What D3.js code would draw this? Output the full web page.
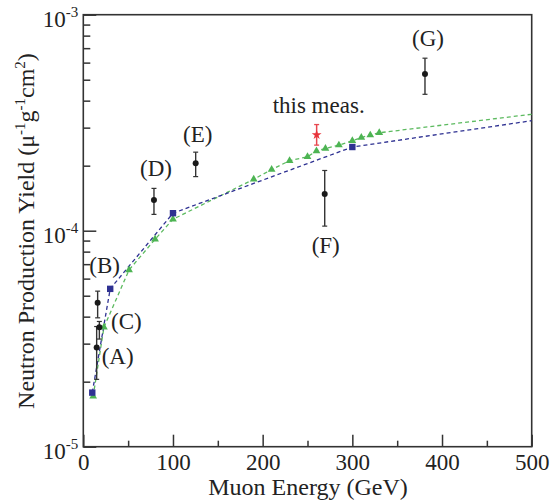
<!DOCTYPE html>
<html>
<head>
<meta charset="utf-8">
<script src="https://cdn.jsdelivr.net/npm/d3@7"></script>
<style>
body { margin: 0; background: #fff; }
text { font-family: "Liberation Serif", "DejaVu Serif", serif; fill: #222; }
</style>
</head>
<body>
<svg></svg>
<script>
// data
var expLabels = ["(A)", "(B)", "(C)", "(D)", "(E)", "(F)", "(G)"];
var expEnergy = [14.9, 16.0, 17.9, 78.8, 125.3, 269.2, 381];
var expYield  = [2.88e-5, 4.64e-5, 3.57e-5, 1.387e-4, 2.05e-4, 1.48e-4, 5.31e-4];
var expLow    = [2.05e-5, 3.95e-5, 3.15e-5, 1.19e-4, 1.78e-4, 1.05e-4, 4.28e-4];
var expHigh   = [3.6e-5, 5.25e-5, 3.8e-5, 1.57e-4, 2.31e-4, 1.90e-4, 6.29e-4];

var measEnergy = 260.2;
var measYield = 2.78e-4;
var measLow = 2.49e-4;
var measHigh = 3.1e-4;

var blueEnergy = [10, 30, 100, 300];
var blueYield  = [1.78e-5, 5.38e-5, 1.205e-4, 2.44e-4];
var blueEnd    = [500, 3.23e-4];

var greenEnergy = [11, 23, 51, 80, 100, 190, 210, 230, 250, 260, 270, 285, 300, 310, 320, 330];
var greenYield  = [1.71e-5, 3.57e-5, 6.58e-5, 9.12e-5, 1.13e-4, 1.73e-4, 1.92e-4, 2.11e-4,
                   2.20e-4, 2.34e-4, 2.40e-4, 2.49e-4, 2.61e-4, 2.70e-4, 2.77e-4, 2.84e-4];
var greenEnd    = [500, 3.46e-4];

var xMajor = [0, 100, 200, 300, 400, 500];
var xMinor = [50, 150, 250, 350, 450];
var yMajor = [1e-5, 1e-4, 1e-3];
var yMinor = [2e-5, 3e-5, 4e-5, 5e-5, 6e-5, 7e-5, 8e-5, 9e-5,
              2e-4, 3e-4, 4e-4, 5e-4, 6e-4, 7e-4, 8e-4, 9e-4];

// layout
var width = 557;
var height = 504;
var plotLeft = 83.3, plotRight = 531.7, plotTop = 14.7, plotBottom = 446.7;
var fontSize = 23;
var titleSize = 24;
var supSize = 15;
// label offsets from the data point: [dx, dy of baseline]
var labelOffsets = [[21, 17], [7, -30], [27, 2], [2, -24], [2, -21], [1, 59], [3, -28]];

var xScale = d3.scaleLinear().domain([0, 500]).range([plotLeft, plotRight]);
var yScale = d3.scaleLog().domain([1e-5, 1e-3]).range([plotBottom, plotTop]);

var svg = d3.select("svg")
            .attr("width", width)
            .attr("height", height);

// frame
svg.append("rect")
    .attr("x", plotLeft)
    .attr("y", plotTop)
    .attr("width", plotRight - plotLeft)
    .attr("height", plotBottom - plotTop)
    .attr("fill", "none")
    .attr("stroke", "#333")
    .attr("stroke-width", 1.6);

// x axis (ticks pointing inward)
svg.append("g")
    .attr("transform", "translate(0," + plotBottom + ")")
    .call(d3.axisBottom(xScale).tickValues(xMajor).tickSize(-12).tickSizeOuter(0).tickPadding(7));
svg.append("g")
    .attr("transform", "translate(0," + plotBottom + ")")
    .call(d3.axisBottom(xScale).tickValues(xMinor).tickSize(-6).tickSizeOuter(0).tickFormat(""));

// y axis
var yAxis = svg.append("g")
    .attr("transform", "translate(" + plotLeft + ",0)")
    .call(d3.axisLeft(yScale).tickValues(yMajor).tickSize(-13).tickSizeOuter(0).tickPadding(5));
svg.append("g")
    .attr("transform", "translate(" + plotLeft + ",0)")
    .call(d3.axisLeft(yScale).tickValues(yMinor).tickSize(-7).tickSizeOuter(0).tickFormat(""));

svg.selectAll(".domain").remove();
svg.selectAll(".tick line").attr("stroke", "#333").attr("stroke-width", 1.5);
svg.selectAll(".tick text")
    .style("font-family", "Liberation Serif, serif")
    .style("font-size", fontSize + "px")
    .attr("fill", "#222");

yAxis.selectAll(".tick text")
    .attr("dy", "0.52em")
    .each(function(d) {
        var t = d3.select(this);
        var exp = Math.round(Math.log10(d));
        t.text(null);
        t.append("tspan").text("10");
        t.append("tspan")
            .attr("dy", -10)
            .style("font-size", supSize + "px")
            .text(exp);
    });

// axis titles
svg.append("text")
    .attr("x", 308)
    .attr("y", 495)
    .style("text-anchor", "middle")
    .style("font-size", titleSize + "px")
    .text("Muon Energy (GeV)");

var yTitle = svg.append("text")
    .attr("transform", "translate(34,231) rotate(-90)")
    .style("text-anchor", "middle")
    .style("font-size", titleSize + "px");
yTitle.append("tspan").text("Neutron Production Yield (\u03bc");
yTitle.append("tspan").attr("dy", -9).style("font-size", supSize + "px").text("-1");
yTitle.append("tspan").attr("dy", 9).text("g");
yTitle.append("tspan").attr("dy", -9).style("font-size", supSize + "px").text("-1");
yTitle.append("tspan").attr("dy", 9).text("cm");
yTitle.append("tspan").attr("dy", -9).style("font-size", supSize + "px").text("2");
yTitle.append("tspan").attr("dy", 9).text(")");

// model curves
var line = d3.line()
    .x(d => xScale(d[0]))
    .y(d => yScale(d[1]));

var bluePts = blueEnergy.map((e, i) => [e, blueYield[i]]);
var greenPts = greenEnergy.map((e, i) => [e, greenYield[i]]);

svg.append("path")
    .datum(greenPts.concat([greenEnd]))
    .attr("d", line)
    .attr("fill", "none")
    .attr("stroke", "#5cba5f")
    .attr("stroke-width", 1.3)
    .attr("stroke-dasharray", "4,3");

svg.append("path")
    .datum(bluePts.concat([blueEnd]))
    .attr("d", line)
    .attr("fill", "none")
    .attr("stroke", "#2e3192")
    .attr("stroke-width", 1.3)
    .attr("stroke-dasharray", "4,3");

svg.selectAll(".tri")
    .data(greenPts)
    .enter()
    .append("path")
        .attr("class", "tri")
        .attr("transform", d => "translate(" + xScale(d[0]) + "," + yScale(d[1]) + ")")
        .attr("d", d3.symbol(d3.symbolTriangle, 26))
        .attr("fill", "#4db453");

svg.selectAll(".sq")
    .data(bluePts)
    .enter()
    .append("rect")
        .attr("class", "sq")
        .attr("x", d => xScale(d[0]) - 3.2)
        .attr("y", d => yScale(d[1]) - 3.2)
        .attr("width", 6.4)
        .attr("height", 6.4)
        .attr("fill", "#2e3192");

// other experiments
var expData = expEnergy.map((e, i) => ({
    label: expLabels[i], e: e, y: expYield[i], lo: expLow[i], hi: expHigh[i], off: labelOffsets[i]
}));

var eb = svg.selectAll(".exp")
    .data(expData)
    .enter()
    .append("g")
        .attr("class", "exp");

eb.append("line")
    .attr("x1", d => xScale(d.e))
    .attr("x2", d => xScale(d.e))
    .attr("y1", d => yScale(d.lo))
    .attr("y2", d => yScale(d.hi))
    .attr("stroke", "#333")
    .attr("stroke-width", 1.4);

eb.selectAll(".cap")
    .data(d => [[d.e, d.lo], [d.e, d.hi]])
    .enter()
    .append("line")
        .attr("x1", d => xScale(d[0]) - 2.5)
        .attr("x2", d => xScale(d[0]) + 2.5)
        .attr("y1", d => yScale(d[1]))
        .attr("y2", d => yScale(d[1]))
        .attr("stroke", "#333")
        .attr("stroke-width", 1.2);

eb.append("circle")
    .attr("cx", d => xScale(d.e))
    .attr("cy", d => yScale(d.y))
    .attr("r", 3)
    .attr("fill", "#1a1a1a");

eb.append("text")
    .attr("x", d => xScale(d.e) + d.off[0])
    .attr("y", d => yScale(d.y) + d.off[1])
    .style("text-anchor", "middle")
    .style("font-size", fontSize + "px")
    .text(d => d.label);

// this measurement
var mx = xScale(measEnergy);
svg.append("line")
    .attr("x1", mx).attr("x2", mx)
    .attr("y1", yScale(measLow)).attr("y2", yScale(measHigh))
    .attr("stroke", "#e8474f")
    .attr("stroke-width", 1.5);
[measLow, measHigh].forEach(function(v) {
    svg.append("line")
        .attr("x1", mx - 2.5).attr("x2", mx + 2.5)
        .attr("y1", yScale(v)).attr("y2", yScale(v))
        .attr("stroke", "#e8474f")
        .attr("stroke-width", 1.3);
});
svg.append("path")
    .attr("transform", "translate(" + mx + "," + yScale(measYield) + ")")
    .attr("d", d3.symbol(d3.symbolStar, 30))
    .attr("fill", "#e8333a");

svg.append("text")
    .attr("x", mx + 2)
    .attr("y", yScale(measYield) - 22)
    .style("text-anchor", "middle")
    .style("font-size", fontSize + "px")
    .text("this meas.");
</script>
</body>
</html>
